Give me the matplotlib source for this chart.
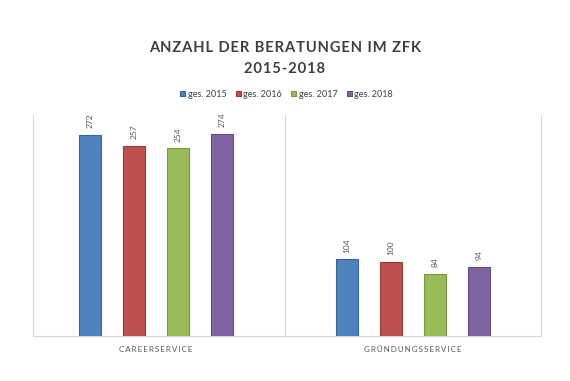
import numpy as np
import matplotlib.pyplot as plt

plt.rcParams['font.family'] = ['Lato', 'DejaVu Sans']

categories = ['CAREERSERVICE', 'GRÜNDUNGSSERVICE']
series = ['ges. 2015', 'ges. 2016', 'ges. 2017', 'ges. 2018']
values = {
    'ges. 2015': [272, 104],
    'ges. 2016': [257, 100],
    'ges. 2017': [254, 84],
    'ges. 2018': [274, 94],
}
colors = ['#4F81BD', '#C0504D', '#9BBB59', '#8064A2']
edges = ['#3A6595', '#9A3B38', '#7A9645', '#634D80']


def spaced(s, sep='\u200a'):
    return sep.join(s)


fig = plt.figure(figsize=(5.7, 3.81), dpi=100)
fig.patch.set_facecolor('white')
ax = fig.add_axes([0.058, 0.118, 0.891, 0.58])

x = np.arange(len(categories))
w = 0.086
step = 0.171
for i, s in enumerate(series):
    pos = x + (i - 1.5) * step
    bars = ax.bar(pos, values[s], width=w, color=colors[i], edgecolor=edges[i],
                  linewidth=0.8, label=s, zorder=3)
    for b, v in zip(bars, values[s]):
        ax.text(b.get_x() + b.get_width() / 2, v + 9, str(v), rotation=90,
                ha='center', va='bottom', fontsize=6, color='#595959')

ax.set_xlim(-0.479, 1.498)
ax.set_ylim(0, 299)
ax.set_yticks([])
ax.set_xticks(x)
ax.set_xticklabels([spaced(c, '\u2009') for c in categories], fontsize=5.8,
                   color='#595959')
ax.tick_params(axis='x', length=0, pad=7)
ax.spines['top'].set_visible(False)
for side in ['left', 'right', 'bottom']:
    ax.spines[side].set_color('#D9D9D9')
    ax.spines[side].set_linewidth(0.8)
ax.axvline(0.502, color='#D9D9D9', linewidth=0.8, zorder=1)

fig.text(0.5, 0.875, spaced('ANZAHL DER BERATUNGEN IM ZFK'), ha='center',
         va='center', fontsize=10.6, fontweight='bold', color='#404040')
fig.text(0.5, 0.82, spaced('2015-2018'), ha='center', va='center',
         fontsize=10.6, fontweight='bold', color='#404040')

fig.legend(loc='center', bbox_to_anchor=(0.503, 0.753), ncol=4, frameon=False,
           fontsize=6.5, handlelength=0.55, handleheight=0.55, handletextpad=0.3,
           columnspacing=1.0, labelcolor='#404040')

fig.savefig('out.png', dpi=100)
